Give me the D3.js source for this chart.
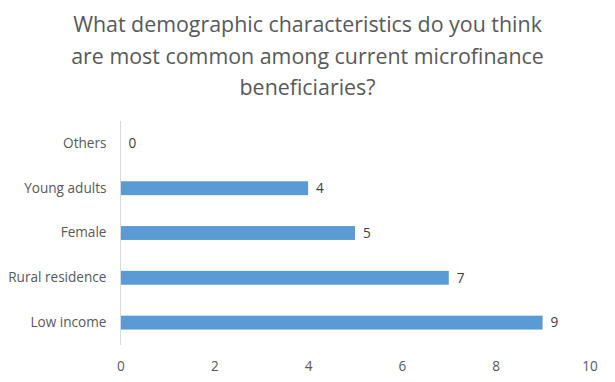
<!DOCTYPE html>
<html>
<head>
<meta charset="utf-8">
<script src="https://cdn.jsdelivr.net/npm/d3@7"></script>
<style>
  body { margin: 0; background: #fff; }
  text { font-family: "Open Sans", sans-serif; }
</style>
</head>
<body>
<div id="chart-area"></div>
<script>
const W = 615
const H = 382
const MARGIN = {LEFT: 120.5, RIGHT: 25.5, TOP: 121, BOTTOM: 37}

// data
const categories = ["Others", "Young adults", "Female", "Rural residence", "Low income"]
const counts = [0, 4, 5, 7, 9]
const xTicks = [0, 2, 4, 6, 8, 10]
const titleLines = [
  "What demographic characteristics do you think",
  "are most common among current microfinance",
  "beneficiaries?"
]

const svg = d3.select("#chart-area").append("svg")
  .attr("width", W)
  .attr("height", H)

svg.append("rect").attr("width", W).attr("height", H).attr("fill", "#fff")

const title = svg.append("text")
  .attr("text-anchor", "middle")
  .attr("fill", "#595959")
  .attr("font-size", "21.4px")

titleLines.forEach((line, i) => {
  title.append("tspan")
    .attr("x", 307.5)
    .attr("y", 32 + i * 31.5)
    .text(line)
})

const x = d3.scaleLinear()
  .domain([0, 10])
  .range([MARGIN.LEFT, W - MARGIN.RIGHT])

const y = d3.scaleBand()
  .domain(categories)
  .range([MARGIN.TOP, H - MARGIN.BOTTOM])
  .paddingInner(0.69)
  .paddingOuter(0.345)

// bars
svg.selectAll("rect.bar").data(categories)
  .enter().append("rect")
  .attr("class", "bar")
  .attr("x", x(0))
  .attr("y", d => y(d))
  .attr("width", (d, i) => x(counts[i]) - x(0))
  .attr("height", y.bandwidth())
  .attr("fill", "#5b9bd5")

// value labels
svg.selectAll("text.val").data(categories)
  .enter().append("text")
  .attr("class", "val")
  .attr("x", (d, i) => x(counts[i]) + 8)
  .attr("y", d => y(d) + y.bandwidth() / 2)
  .attr("dy", "0.35em")
  .attr("font-size", "13.6px")
  .attr("fill", "#404040")
  .text((d, i) => counts[i])

// category axis
const yAxis = svg.append("g")
  .attr("transform", `translate(${MARGIN.LEFT}, 0)`)
  .call(d3.axisLeft(y).tickSize(0).tickPadding(14))
yAxis.select(".domain").attr("stroke", "#d9d9d9")
  .attr("d", `M0,${MARGIN.TOP}V${H - MARGIN.BOTTOM}`)
yAxis.selectAll("text")
  .attr("font-family", "Open Sans")
  .attr("font-size", "13.6px")
  .attr("fill", "#595959")

// value axis (labels only)
const xAxis = svg.append("g")
  .attr("transform", `translate(0, ${H - MARGIN.BOTTOM})`)
  .call(d3.axisBottom(x).tickValues(xTicks).tickSize(0).tickPadding(16))
xAxis.select(".domain").remove()
xAxis.selectAll("text")
  .attr("font-family", "Open Sans")
  .attr("font-size", "13.6px")
  .attr("fill", "#595959")
</script>
</body>
</html>
